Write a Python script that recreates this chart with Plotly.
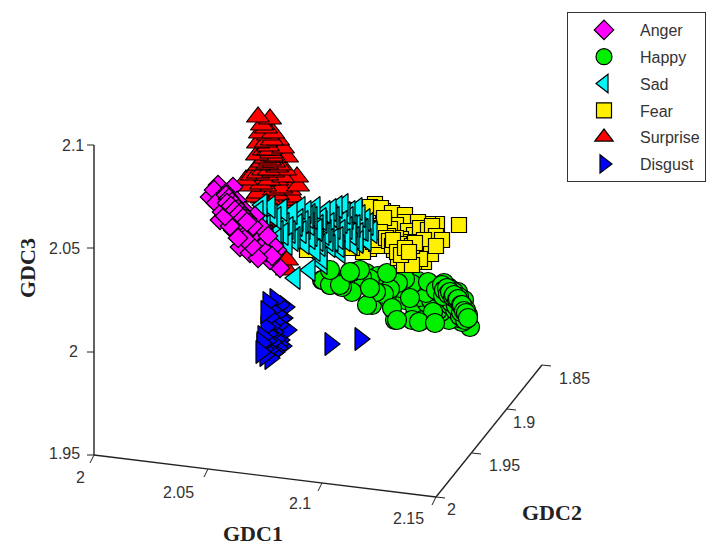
import plotly.graph_objects as go

# Projected picture coordinates of the points
surprise_x = [258,270,260,258,257,273,278,283,287,297,252,258,258,270,277,283,290,280,287,287,262,266,268,272,264,262,268,271,275,279,259,263,267,273,277,281,285,261,265,269,274,278,283,262,270,276,281,272,276,266,271,262,268,266,268,270,272,274,265,267,269,250,255,293,298,246,285,292]
surprise_y = [117,119,133,143,155,133,140,148,157,177,175,173,193,160,167,177,190,228,260,270,125,128,135,140,150,162,150,153,157,165,165,170,175,172,180,188,170,184,186,180,190,195,200,198,200,205,203,212,222,215,225,210,220,142,146,150,156,162,158,164,170,186,197,197,186,180,215,205]

happy_x = [322,340,352,366,378,395,372,388,405,415,434,423,450,470,462,458,449,441,435,427,420,410,400,392,385,378,370,362,355,345,335,330,446,452,458,464,468,455,447,443,438,431,426,440,445,450,455,460,465,442,448,454,459,463,466,433,438,444,451,456,461,418,412,405,398,390,384,376,428,436,443,412,442,444,447,448,450,453,454,457,458,461,462,464,466,468,367,392,397,419,435,410,352,370,323,330,342,352,360,387,340,350,330]
happy_y = [280,280,288,273,276,320,305,298,300,308,318,320,311,327,322,318,320,312,306,303,297,295,288,285,281,282,279,277,284,281,283,285,288,290,292,300,315,300,296,302,310,300,293,293,298,305,310,316,320,286,287,292,297,306,310,312,286,283,302,306,312,281,284,279,283,289,294,292,282,290,296,320,285,290,288,294,292,297,295,300,299,305,305,311,313,318,305,308,320,322,323,298,292,288,280,285,287,272,270,273,285,272,270]

sad_x = [295,310,322,272,262,258,265,276,284,290,298,305,310,317,322,328,334,340,345,352,358,365,372,267,278,287,295,304,312,320,326,333,339,347,354,361,262,270,282,292,300,308,315,325,331,337,343,350,357,268,278,288,297,315,340,322,303,306,309,312,318,321,324,329,332,335,338,342,348,351,355,360,363,368,262,276,283,293,301,310,318,345,352,358,366,330]
sad_y = [278,270,263,215,220,212,226,218,224,232,220,228,215,230,222,240,218,231,213,226,234,220,232,236,242,244,238,243,235,245,231,240,246,228,238,229,205,207,210,213,208,217,208,212,210,207,205,212,209,240,232,228,225,250,252,258,222,212,224,218,226,219,234,224,216,228,238,222,218,234,226,216,230,224,232,240,234,240,232,238,240,240,244,242,240,246]

fear_x = [375,383,358,340,345,353,362,370,381,392,405,405,437,459,428,418,396,408,414,420,428,432,436,442,376,382,367,349,356,348,362,372,378,388,394,401,410,416,424,405,398,410,417,424,431,436,369,363,356,352,384,390,396,408,414,420,384,374,366,388,404,412,368,370,372,374,366,368,371,373,376,378,364,367,370,374,378,380,386,389,392,399,403,407,412,415,393,397,401,405,409,307,323,316]
fear_y = [204,211,210,216,212,210,219,207,208,213,215,222,224,225,224,222,225,231,235,228,230,226,236,240,226,232,238,230,222,238,241,245,236,244,250,239,242,250,240,253,258,258,256,262,254,246,249,252,244,248,223,229,238,245,262,259,218,235,224,236,265,265,228,230,232,234,236,238,240,242,244,246,226,229,233,238,240,232,238,241,246,244,248,250,246,243,240,252,255,248,252,250,232,245]

anger_x = [218,233,210,223,240,230,247,220,233,257,240,277,263,250,280,270,214,226,237,245,252,260,268,274,228,236,243,250,256,262,266,272,241,247,254,224,232,216,222,228,235,242,248,255,262,268,258,252,245,238,230,225,226,229,232,235,238,241,244,247,250,253,227,231,235,239,243,247]
anger_y = [185,187,197,200,207,213,220,220,230,240,247,250,253,253,268,260,190,193,201,211,227,233,240,246,207,219,230,239,245,247,252,256,214,224,234,208,220,203,212,199,212,222,232,216,228,236,258,246,239,238,226,216,195,198,202,205,209,212,216,219,223,226,203,206,210,214,218,222]

disgust_x = [268,262,330,360,275,280,285,272,277,283,270,275,281,266,271,279,287,263,268,274,262,267,272,276,280,264,269,273,278,282,261,265,270,275,279,266,269]
disgust_y = [303,345,344,339,300,305,307,310,314,318,317,322,319,327,326,325,330,337,334,332,343,341,342,339,340,349,350,353,348,346,352,355,358,352,344,312,333]

axis1_x, axis1_y = [94,436], [455,497]
axis2_x, axis2_y = [436,542], [497,365]
axis3_x, axis3_y = [94,94], [455,145]

gdc1_ticks = ["2","2.05","2.1","2.15"]
gdc1_tick_x = [94,208,322,436]
gdc1_tick_y = [455,469,483,497]
gdc2_ticks = ["2","1.95","1.9","1.85"]
gdc2_tick_x = [436,472,507,542]
gdc2_tick_y = [497,453,409,365]
gdc3_ticks = ["1.95","2","2.05","2.1"]
gdc3_tick_y = [455,352,248,145]

fig = go.Figure()
LINE = dict(color="#222", width=1.4)
for xs, ys in [(axis1_x,axis1_y),(axis2_x,axis2_y),(axis3_x,axis3_y)]:
    fig.add_trace(go.Scatter(x=xs,y=ys,mode="lines",line=LINE,showlegend=False,hoverinfo="skip"))

# tick marks
for x,y in zip(gdc1_tick_x,gdc1_tick_y):
    fig.add_trace(go.Scatter(x=[x,x-4],y=[y,y+8],mode="lines",line=dict(color="#222",width=1),showlegend=False,hoverinfo="skip"))
for x,y in zip(gdc2_tick_x,gdc2_tick_y):
    fig.add_trace(go.Scatter(x=[x,x+9],y=[y,y+1],mode="lines",line=dict(color="#222",width=1),showlegend=False,hoverinfo="skip"))
for y in gdc3_tick_y:
    fig.add_trace(go.Scatter(x=[94,87],y=[y,y],mode="lines",line=dict(color="#222",width=1),showlegend=False,hoverinfo="skip"))

def pts(name,xs,ys,symbol,color,size,rank,order=None):
    pairs = list(zip(xs,ys))
    if order == "x": pairs.sort(key=lambda p:-p[0])
    if order == "y": pairs.sort(key=lambda p:-p[1])
    fig.add_trace(go.Scatter(x=[p[0] for p in pairs],y=[p[1] for p in pairs],mode="markers",name=name,legendrank=rank,legendgroup=name,
        marker=dict(symbol=symbol,color=color,size=size,line=dict(color="#000",width=1.2))))

pts("Surprise",surprise_x,surprise_y,"triangle-up","#ff0000",20,500,"y")
pts("Disgust",disgust_x,disgust_y,"triangle-right","#0000ff",20,600,"x")
pts("Happy",happy_x,happy_y,"circle","#00f000",19,200)
pts("Fear",fear_x,fear_y,"square","#fff000",15,400)
pts("Sad",sad_x,sad_y,"triangle-left","#00f5f5",20,300,"x")
pts("Anger",anger_x,anger_y,"diamond","#ff00ff",15,100)

TICK = dict(family="Liberation Sans",size=16,color="#333")
ann = []
for t,x,y in zip(gdc1_ticks,[80,178,300,408],[477,492,503,518]):
    ann.append(dict(x=x,y=y,text=t))
for t,x,y in zip(gdc2_ticks,[451,504,524,574],[509,465,422,378]):
    ann.append(dict(x=x,y=y,text=t))
for t,x,y in zip(gdc3_ticks,[64,73,64,73],[453,351,248,145]):
    ann.append(dict(x=x,y=y,text=t))
annotations=[dict(a,xref="x",yref="y",showarrow=False,font=TICK) for a in ann]
TITLE = dict(family="Liberation Serif",size=22,color="#222")
annotations += [
    dict(x=253,y=533,xref="x",yref="y",text="<b>GDC1</b>",showarrow=False,font=TITLE),
    dict(x=552,y=512,xref="x",yref="y",text="<b>GDC2</b>",showarrow=False,font=TITLE),
    dict(x=27,y=268,xref="x",yref="y",text="<b>GDC3</b>",textangle=-90,showarrow=False,font=TITLE),
]

fig.update_layout(
    width=710,height=545,margin=dict(l=0,r=0,t=0,b=0),
    paper_bgcolor="white",plot_bgcolor="white",
    xaxis=dict(visible=False,range=[0,710],fixedrange=True),
    yaxis=dict(visible=False,range=[545,0],fixedrange=True),
    annotations=annotations,
    legend=dict(x=567/710,y=1-12/545,xanchor="left",yanchor="top",
        bgcolor="white",bordercolor="#333",borderwidth=1,
        font=dict(family="Liberation Sans",size=16,color="#333"),
        itemwidth=62,tracegroupgap=3,traceorder="grouped"),
)
fig.write_html("out.html",config=dict(displayModeBar=False),post_script="document.body.style.margin='0';document.body.style.overflow='hidden';")
